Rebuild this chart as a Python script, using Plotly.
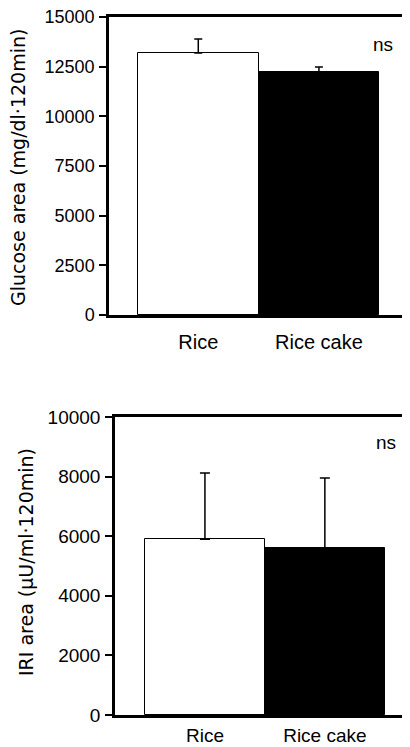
import plotly.graph_objects as go

# page has an 8px body margin, so the figure is drawn 8px smaller and coordinates shifted
OFF = 8
W, H = 410 - OFF, 747 - OFF

categories = ["Rice", "Rice cake"]
glucose_area = [13190, 12230]
glucose_err = [700, 250]
iri_area = [5900, 5600]
iri_err = [2220, 2350]
glucose_ticks = [0, 2500, 5000, 7500, 10000, 12500, 15000]
glucose_ticktext = ["0", "2500", "5000", "7500", "10000", "12500", "15000"]
iri_ticks = [0, 2000, 4000, 6000, 8000, 10000]
iri_ticktext = ["0", "2000", "4000", "6000", "8000", "10000"]
bar_colors = ["white", "black"]

FONT = "Liberation Sans, Arial, sans-serif"
TFONT = "DejaVu Sans, sans-serif"

fig = go.Figure()

fig.add_trace(go.Bar(
    x=categories, y=glucose_area, width=1.0,
    marker=dict(color=bar_colors, line=dict(color="black", width=1)),
    error_y=dict(type="data", array=glucose_err, arrayminus=[0, 0], symmetric=False,
                 color="black", thickness=1.5, width=4),
    xaxis="x", yaxis="y", showlegend=False,
))
fig.add_trace(go.Bar(
    x=categories, y=iri_area, width=1.0,
    marker=dict(color=bar_colors, line=dict(color="black", width=1)),
    error_y=dict(type="data", array=iri_err, arrayminus=[0, 0], symmetric=False,
                 color="black", thickness=1.5, width=5),
    xaxis="x2", yaxis="y2", showlegend=False,
))

def px_x(p):
    return max(0.0, min(1.0, (p - OFF) / W))

def px_y(p):
    return max(0.0, min(1.0, 1 - (p - OFF) / H))

common_x = dict(showline=True, linecolor="black", linewidth=2.5, mirror=True,
                ticks="", showgrid=False, zeroline=False, automargin=False,
                ticklabeloverflow="allow")
common_y = dict(showline=True, linecolor="black", linewidth=2.5, mirror=True,
                ticks="outside", ticklen=7, tickwidth=2, tickcolor="black",
                showgrid=False, zeroline=False, automargin=False,
                ticklabeloverflow="allow")

fig.update_layout(
    width=W, height=H,
    margin=dict(l=0, r=0, t=0, b=0),
    plot_bgcolor="white", paper_bgcolor="white",
    bargap=0,
    xaxis=dict(domain=[px_x(109), px_x(407)], anchor="y", range=[-0.74, 1.73],
               ticklabelstandoff=7, tickfont=dict(family=FONT, size=20, color="black"),
               **common_x),
    yaxis=dict(domain=[px_y(315), px_y(17)], anchor="x", range=[0, 15000],
               tickvals=glucose_ticks, ticktext=glucose_ticktext, ticklabelstandoff=1,
               tickfont=dict(family=FONT, size=18, color="black"),
               **common_y),
    xaxis2=dict(domain=[px_x(115), px_x(410)], anchor="y2", range=[-0.75, 1.71],
                ticklabelstandoff=1, tickfont=dict(family=FONT, size=19, color="black"),
                **common_x),
    yaxis2=dict(domain=[px_y(715), px_y(417)], anchor="x2", range=[0, 10000],
                tickvals=iri_ticks, ticktext=iri_ticktext, ticklabelstandoff=1,
                tickfont=dict(family=FONT, size=19, color="black"),
                **common_y),
    annotations=[
        dict(text="Glucose area (mg/dl·120min)", xref="paper", yref="paper",
             x=px_x(18), y=px_y(168), textangle=-90, showarrow=False,
             xanchor="center", yanchor="middle",
             font=dict(family=TFONT, size=19, color="black")),
        dict(text="IRI area (μU/ml·120min)", xref="paper", yref="paper",
             x=px_x(26), y=px_y(562), textangle=-90, showarrow=False,
             xanchor="center", yanchor="middle",
             font=dict(family=TFONT, size=19, color="black")),
        dict(text="ns", xref="paper", yref="paper", x=px_x(383), y=px_y(44),
             showarrow=False, xanchor="center", yanchor="middle",
             font=dict(family=FONT, size=19, color="black")),
        dict(text="ns", xref="paper", yref="paper", x=px_x(386), y=px_y(442),
             showarrow=False, xanchor="center", yanchor="middle",
             font=dict(family=FONT, size=19, color="black")),
    ],
)

fig.write_html("out.html")
